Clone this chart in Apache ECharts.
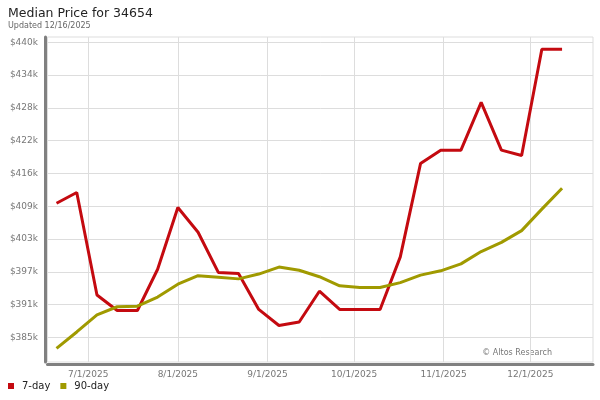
<!DOCTYPE html>
<html>
<head>
<meta charset="utf-8">
<script src="https://cdn.jsdelivr.net/npm/echarts@6/dist/echarts.min.js"></script>
<style>
    html, body { margin: 0; padding: 0; background: #fff; }
    #chart { width: 600px; height: 400px; }
</style>
</head>
<body>
<div id="chart"></div>
<script>
// weekly points
const dates = ['2025-06-20', '2025-06-27', '2025-07-04', '2025-07-11', '2025-07-18', '2025-07-25',
    '2025-08-01', '2025-08-08', '2025-08-15', '2025-08-22', '2025-08-29', '2025-09-05',
    '2025-09-12', '2025-09-19', '2025-09-26', '2025-10-03', '2025-10-10', '2025-10-17',
    '2025-10-24', '2025-10-31', '2025-11-07', '2025-11-14', '2025-11-21', '2025-11-28',
    '2025-12-05', '2025-12-12'];
// median price, $k
const day7 = [410.0, 412.0, 392.9, 390.0, 390.0, 397.7, 409.2, 404.6, 397.1, 396.9, 390.2, 387.2,
    387.85, 393.6, 390.2, 390.2, 390.2, 400.0, 417.4, 419.9, 419.9, 428.8, 419.9, 418.9, 438.7, 438.7];
const day90 = [382.95, 386.0, 389.2, 390.7, 390.8, 392.5, 394.9, 396.5, 396.2, 395.9, 396.8, 398.1,
    397.5, 396.3, 394.6, 394.3, 394.3, 395.2, 396.6, 397.4, 398.7, 401.0, 402.7, 404.9, 408.9, 412.8];
// axis ticks
const monthTicks = ['2025-07-01', '2025-08-01', '2025-09-01', '2025-10-01', '2025-11-01', '2025-12-01'];
const priceTicks = [385, 391.11, 397.22, 403.33, 409.44, 415.56, 421.67, 427.78, 433.89, 440];

const font = 'DejaVu Sans';
const chart = echarts.init(document.getElementById('chart'));

function pairs(vals) {
    return dates.map(function (d, i) { return [Date.parse(d), vals[i]]; });
}
const monthMs = monthTicks.map(function (d) { return Date.parse(d); });

chart.setOption({
    animation: false,
    textStyle: { fontFamily: font },
    title: {
        text: 'Median Price for 34654',
        subtext: 'Updated 12/16/2025',
        left: 3,
        top: 2,
        itemGap: 2,
        textStyle: { fontFamily: font, fontSize: 12.5, fontWeight: 'normal', color: '#222' },
        subtextStyle: { fontFamily: font, fontSize: 8, color: '#666' }
    },
    legend: {
        left: 3,
        top: 376,
        icon: 'rect',
        itemWidth: 6,
        itemHeight: 6,
        itemGap: 10,
        textStyle: { fontFamily: font, fontSize: 10, color: '#222', padding: [0, 0, 0, 3] },
        data: ['7-day', '90-day']
    },
    grid: {
        left: 47.5,
        right: 7,
        top: 37,
        bottom: 38,
        show: true,
        borderColor: '#ddd',
        borderWidth: 1
    },
    xAxis: {
        type: 'value',
        min: Date.UTC(2025, 5, 16, 21),
        max: Date.UTC(2025, 11, 22, 17),
        offset: 2,
        axisLine: { show: true, lineStyle: { color: '#808080', width: 3 } },
        axisTick: { show: false, customValues: monthMs },
        axisLabel: {
            customValues: monthMs,
            fontFamily: font,
            fontSize: 9,
            color: '#777',
            margin: 6,
            formatter: function (v) {
                const dt = new Date(v);
                return (dt.getUTCMonth() + 1) + '/' + dt.getUTCDate() + '/' + dt.getUTCFullYear();
            }
        },
        splitLine: { show: true, lineStyle: { color: '#ddd', width: 1 } }
    },
    yAxis: {
        type: 'value',
        min: 380.4,
        max: 441,
        offset: 2.5,
        axisLine: { show: true, lineStyle: { color: '#808080', width: 3 } },
        axisTick: { show: false, customValues: priceTicks },
        axisLabel: {
            customValues: priceTicks,
            fontFamily: font,
            fontSize: 9,
            color: '#777',
            margin: 7,
            formatter: function (v) { return '$' + Math.round(v) + 'k'; }
        },
        splitLine: { show: true, lineStyle: { color: '#ddd', width: 1 } }
    },
    graphic: [{
        type: 'text',
        right: 48,
        top: 349,
        style: { text: '\u00a9 Altos Research', font: '8px "DejaVu Sans"', fill: '#777' }
    }],
    series: [
        {
            name: '7-day',
            type: 'line',
            data: pairs(day7),
            symbol: 'none',
            itemStyle: { color: '#c40a10' },
            lineStyle: { color: '#c40a10', width: 3 }
        },
        {
            name: '90-day',
            type: 'line',
            data: pairs(day90),
            symbol: 'none',
            itemStyle: { color: '#a09a00' },
            lineStyle: { color: '#a09a00', width: 3 }
        }
    ]
});
</script>
</body>
</html>
